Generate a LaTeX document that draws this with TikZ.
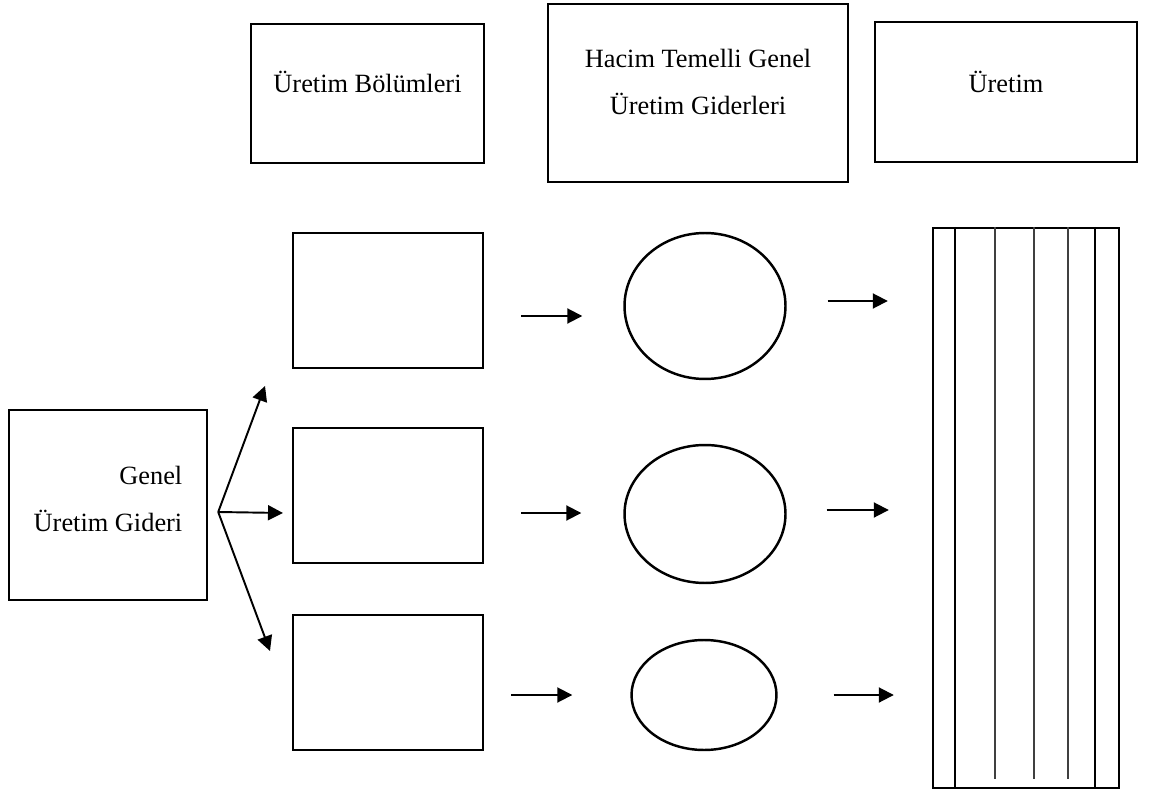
\documentclass[tikz,border=0pt]{standalone}
\usepackage{fontspec}
\setmainfont{Liberation Serif}
\usetikzlibrary{arrows.meta,calc,shapes.geometric}

\begin{document}
\begin{tikzpicture}[
  x=0.02cm,
  y=-0.02cm,
  mybox/.style={
    rectangle,
    draw,
    line width=1.4pt,
    align=center,
    font=\fontsize{15pt}{27pt}\selectfont
  },
  myoval/.style={
    ellipse,
    draw,
    line width=1.4pt,
    inner sep=0pt
  },
  myarrow/.style={
    line width=1.1pt,
    -{Triangle[length=0.3cm,width=0.3cm]}
  }
]
\useasboundingbox (0,0) rectangle (1149,800);
% header boxes
\node[mybox, text depth=0.45cm, minimum width=4.66cm, minimum height=2.78cm] (bolum) at (367.5,93.5) {Üretim Bölümleri};
\node[mybox, text depth=0.45cm, minimum width=6cm, minimum height=3.56cm] (hacim) at (698,93) {Hacim Temelli Genel\\Üretim Giderleri};
\node[mybox, text depth=0.4cm, minimum width=5.24cm, minimum height=2.8cm] (uretim) at (1006,92) {Üretim};
% left box
\node[mybox, align=right, text depth=0.25cm, minimum width=3.96cm, minimum height=3.8cm] (genel) at (108,505) {Genel\hspace{0.12cm}\\Üretim Gideri};
% departments
\node[mybox, minimum width=3.8cm, minimum height=2.7cm] (bolA) at (388,300.5) {};
\node[mybox, minimum width=3.8cm, minimum height=2.7cm] (bolB) at (388,495.5) {};
\node[mybox, minimum width=3.8cm, minimum height=2.7cm] (bolC) at (388,682.5) {};
% cost pools
\node[myoval, minimum width=3.22cm, minimum height=2.92cm] (havA) at (705,306) {};
\node[myoval, minimum width=3.22cm, minimum height=2.76cm] (havB) at (705,514) {};
\node[myoval, minimum width=2.9cm, minimum height=2.2cm] (havC) at (704,695) {};
% production
\node[mybox, minimum width=3.72cm, minimum height=11.2cm] (uret) at (1026,508) {};
\foreach \dx in {23,163}
  \draw[line width=1.4pt] ($(uret.north west)+(\dx,0)$) -- ($(uret.south west)+(\dx,0)$);
\foreach \dx in {63,102,136}
  \draw[line width=0.8pt, black!75] ($(uret.north west)+(\dx,0)$) -- ($(uret.south west)+(\dx,-10)$);
% fan out
\coordinate (fork) at ($(genel.east)+(10,7)$);
\coordinate (tipA) at (265,386);
\coordinate (tipB) at (283,513);
\coordinate (tipC) at (270,651);
\draw[myarrow] (fork) -- (tipA);
\draw[myarrow] (fork) -- (tipB);
\draw[myarrow] (fork) -- (tipC);
% department -> pool
\draw[myarrow] ($(bolA.east)+(37,15.5)$) -- ($(havA.west)+(-41,10)$);
\draw[myarrow] ($(bolB.east)+(37,17.5)$) -- ($(havB.west)+(-42,-1)$);
\draw[myarrow] ($(bolC.east)+(27,12.5)$) -- ($(havC.west)+(-58,0)$);
% pool -> production
\draw[myarrow] ($(havA.east)+(41,-5)$) -- ($(havA.east -| uret.west)+(-44,-5)$);
\draw[myarrow] ($(havB.east)+(40,-4)$) -- ($(havB.east -| uret.west)+(-43,-4)$);
\draw[myarrow] ($(havC.east)+(56,0)$) -- ($(havC.east -| uret.west)+(-38,0)$);
\end{tikzpicture}
\end{document}
